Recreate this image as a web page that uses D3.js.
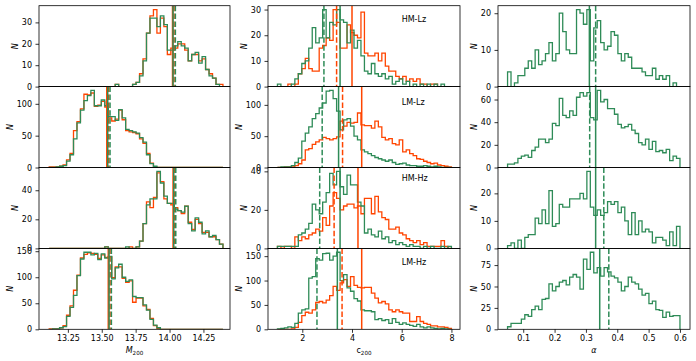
<!DOCTYPE html>
<html>
<head>
<meta charset="utf-8">
<script src="https://cdn.jsdelivr.net/npm/d3@7"></script>
<style>
  body { margin: 0; background: #fff; }
  svg text { font-family: "DejaVu Sans", sans-serif; }
</style>
</head>
<body>
<svg id="chart" width="696" height="361"></svg>
<script>
// 50 equal bins per quantity
var nBins = 50;
var m200Range = [13.112, 14.394];
var c200Range = [1.0, 8.0];
var alphaRange = [0.05, 0.6];

var samples = ["HM-Lz", "LM-Lz", "HM-Hz", "LM-Hz"];

// M200 counts
var m200_HMLz_orange = [0,0,0,0,0,0,0,0,0,0, 0,0,0,0,0,0,0,0,0,1, 0,0,0,0,1,2,6,13,25,33, 36,25,32,28,15,18,18,20,20,17, 12,15,15,12,13,8,6,4,1,1];
var m200_HMLz_green  = [0,0,0,0,0,0,0,0,0,0, 0,0,0,0,0,0,0,0,0,1, 0,0,0,0,1,2,5,12,25,32, 32,28,33,29,17,17,19,21,19,18, 12,15,16,11,14,8,5,4,1,0];
var m200_LMLz_orange = [1,1,1,2,4,12,22,58,72,92, 115,114,117,96,98,104,95,78,73,76, 90,75,58,56,55,53,45,38,22,7, 1,0,0,0,0,0,0,0,0,0, 0,0,0,0,0,0,0,0,0,0];
var m200_LMLz_green  = [0,0,1,2,3,10,20,45,70,90, 105,113,121,97,97,106,97,80,80,74, 91,78,60,58,56,54,47,40,20,6, 2,0,0,0,0,0,0,0,0,0, 0,0,0,0,0,0,0,0,0,0];
var m200_HMHz_orange = [0,0,0,0,0,0,0,0,0,0, 0,0,0,0,0,0,1,0,0,0, 0,0,0,1,0,1,5,17,32,28, 35,52,46,34,31,30,28,26,24,29, 18,13,20,17,11,11,8,8,6,3];
var m200_HMHz_green  = [0,0,0,0,0,0,0,0,0,0, 0,0,0,0,0,0,1,0,0,0, 0,0,1,0,0,1,5,17,30,34, 34,53,45,36,31,31,27,26,25,29, 17,12,21,18,10,12,8,9,6,3];
var m200_LMHz_orange = [1,1,1,3,7,27,45,75,104,137, 144,147,146,144,136,143,138,139,99,120, 120,98,90,93,52,60,60,45,38,21, 7,2,0,0,0,0,0,0,0,0, 0,0,0,0,0,0,0,0,0,0];
var m200_LMHz_green  = [0,1,1,3,5,25,42,65,103,135, 148,148,143,146,134,145,137,140,97,118, 125,100,92,95,63,61,61,47,37,19, 8,3,0,0,0,0,0,0,0,0, 0,0,0,0,0,0,0,0,0,0];

// c200 counts
var c200_HMLz_orange = [0,0,0,1,0,1,5,7,11,7, 6,6,15,16,19,18,30,25,15,15, 24,21,20,19,29,13,12,12,13,10, 13,8,6,6,4,3,4,2,3,2, 3,1,1,0,1,1,0,0,0,0];
var c200_HMLz_green  = [1,0,0,0,1,3,5,9,10,15, 23,17,19,30,19,25,24,30,26,25, 17,22,15,18,12,6,5,9,5,4, 5,3,4,1,2,3,1,2,0,1, 0,1,0,1,0,1,0,1,0,0];
var c200_LMLz_orange = [0,0,1,1,1,3,6,12,28,30, 37,41,44,48,46,44,46,49,74,66, 72,71,72,87,68,67,67,63,74,65, 48,44,46,38,36,44,25,28,22,19, 14,13,10,8,6,7,4,3,2,1];
var c200_LMLz_green  = [0,1,1,1,3,8,15,42,55,65, 78,86,95,103,122,123,110,90,60,76, 78,66,50,44,28,25,22,19,16,14, 12,10,12,8,5,6,7,4,3,3, 2,2,3,2,1,2,1,0,0,0];
var c200_HMHz_orange = [1,0,1,1,0,6,4,6,5,7, 8,10,9,16,12,22,29,26,20,22, 23,23,21,22,18,26,26,18,27,19, 16,15,10,10,11,8,7,5,4,3, 4,2,3,1,1,1,1,4,1,0];
var c200_HMHz_green  = [1,1,1,1,1,1,7,8,10,13, 23,20,18,24,29,39,33,40,32,28, 38,33,33,24,22,8,10,7,6,9, 5,6,3,4,2,3,2,1,2,1, 1,0,1,0,1,0,0,1,0,1];
var c200_LMHz_orange = [0,0,0,0,1,4,14,28,35,33, 40,55,57,54,60,69,88,80,95,102, 88,108,90,86,85,86,86,74,64,54, 57,52,40,36,40,36,33,33,16,16, 26,16,12,10,7,7,5,5,4,2];
var c200_LMHz_green  = [1,2,3,5,4,12,33,40,42,105, 108,145,142,155,156,142,150,158,100,112, 85,78,63,58,40,38,38,36,20,22, 18,20,12,22,14,10,13,10,8,6, 10,5,3,5,3,2,1,2,1,0];

// alpha counts (one sample only)
var alpha_HMLz_green = [4,0,1,3,3,5,7,5,10,6, 7,9,12,7,9,20,15,10,9,9, 21,20,17,21,7,16,18,12,10,11, 15,14,9,7,9,8,5,5,5,4, 3,3,5,2,3,2,3,0,1,0];
var alpha_LMLz_green = [3,3,4,8,10,11,9,15,18,25, 25,22,25,39,37,61,46,44,50,46, 62,66,63,66,44,42,68,58,60,52, 52,47,38,35,36,38,33,30,22,20, 25,16,23,14,15,13,16,6,10,8];
var alpha_HMHz_green = [1,2,0,3,0,4,5,5,11,9, 14,9,21,8,9,16,15,15,18,18, 18,20,18,28,15,12,14,12,13,17, 16,17,13,15,10,5,13,5,10,6, 7,6,2,4,4,3,1,6,1,8];
var alpha_LMHz_green = [3,7,7,7,12,17,15,23,27,23, 35,36,53,45,50,55,57,52,61,64, 61,47,82,70,90,66,72,62,72,67, 62,60,55,45,50,61,55,53,47,40, 42,30,33,23,22,14,20,15,16,16];

// vertical markers per sample: [solid, dashed]
var m200_orange_lines = [[14.022, 14.033], [13.537, 13.551], [14.026, 14.037], [13.548, 13.561]];
var m200_green_lines  = [[14.026, 14.043], [13.544, 13.561], [14.031, 14.046], [13.554, 13.571]];
var c200_orange_lines = [[4.00, 3.38], [4.39, 3.62], [4.24, 3.28], [4.39, 3.60]];
var c200_green_lines  = [[3.52, 2.87], [3.46, 2.80], [3.52, 2.70], [3.41, 2.59]];
var alpha_green_lines = [[0.311, 0.331], [0.331, 0.312], [0.331, 0.357], [0.344, 0.373]];

// axis limits and ticks
var m200Lim = [13.037, 14.446];
var c200Lim = [0.62, 8.345];
var alphaLim = [0.0195, 0.632];
var m200Ticks = [13.25, 13.5, 13.75, 14.0, 14.25];
var c200Ticks = [2, 4, 6, 8];
var alphaTicks = [0.1, 0.2, 0.3, 0.4, 0.5, 0.6];
var m200YTicks = [[0, 10, 20, 30], [0, 50, 100], [0, 20, 40], [0, 50, 100, 150]];
var c200YTicks = [[0, 10, 20, 30], [0, 50, 100], [0, 20, 40], [0, 50, 100, 150]];
var alphaYTicks = [[0, 10, 20], [0, 20, 40, 60], [0, 10, 20], [0, 25, 50, 75]];

var ORANGE = "#ff4500", GREEN = "#2e8b57";

var columns = [
  { range: m200Range, lim: m200Lim, ticks: m200Ticks, fmt: d3.format(".2f"), yTicks: m200YTicks,
    orange: [m200_HMLz_orange, m200_LMLz_orange, m200_HMHz_orange, m200_LMHz_orange],
    green: [m200_HMLz_green, m200_LMLz_green, m200_HMHz_green, m200_LMHz_green],
    oLines: m200_orange_lines, gLines: m200_green_lines, label: "M", sub: "200", italic: true },
  { range: c200Range, lim: c200Lim, ticks: c200Ticks, fmt: d3.format("d"), yTicks: c200YTicks,
    orange: [c200_HMLz_orange, c200_LMLz_orange, c200_HMHz_orange, c200_LMHz_orange],
    green: [c200_HMLz_green, c200_LMLz_green, c200_HMHz_green, c200_LMHz_green],
    oLines: c200_orange_lines, gLines: c200_green_lines, label: "c", sub: "200", italic: false, tag: true },
  { range: alphaRange, lim: alphaLim, ticks: alphaTicks, fmt: d3.format(".1f"), yTicks: alphaYTicks,
    orange: null,
    green: [alpha_HMLz_green, alpha_LMLz_green, alpha_HMHz_green, alpha_LMHz_green],
    oLines: null, gLines: alpha_green_lines, label: "\u03b1", sub: "", italic: true }
];

// layout
var colX = [[39, 230], [268, 460], [498, 690]];
var rowTop = 5.7, rowH = 80.9;
var tagDy = [16, 18.3, 13, 17];

var svg = d3.select("#chart");

function stepPoints(counts, range) {
  var w = (range[1] - range[0]) / nBins;
  var pts = [[range[0], 0]];
  counts.forEach(function(c, i) {
    pts.push([range[0] + i * w, c]);
    pts.push([range[0] + (i + 1) * w, c]);
  });
  pts.push([range[1], 0]);
  return pts;
}

columns.forEach(function(col, ci) {
  var x = d3.scaleLinear().domain(col.lim).range(colX[ci]);

  samples.forEach(function(name, ri) {
    var top = rowTop + ri * rowH, bottom = top + rowH;
    var all = col.green[ri].concat(col.orange ? col.orange[ri] : []);
    var y = d3.scaleLinear().domain([0, 1.05 * d3.max(all)]).range([bottom, top]);

    var clipId = "clip" + ci + ri;
    svg.append("clipPath").attr("id", clipId)
      .append("rect")
        .attr("x", colX[ci][0]).attr("y", top)
        .attr("width", colX[ci][1] - colX[ci][0]).attr("height", rowH);

    var g = svg.append("g").attr("clip-path", "url(#" + clipId + ")");
    var line = d3.line()
      .x(function(d) { return x(d[0]); })
      .y(function(d) { return y(d[1]); });

    if (col.orange) {
      g.append("path")
        .attr("d", line(stepPoints(col.orange[ri], col.range)))
        .attr("fill", "none").attr("stroke", ORANGE).attr("stroke-width", 1.3);
    }
    g.append("path")
      .attr("d", line(stepPoints(col.green[ri], col.range)))
      .attr("fill", "none").attr("stroke", GREEN).attr("stroke-width", 1.3);

    // median (solid) and mean (dashed) markers
    function marker(v, color, dashed) {
      g.append("line")
        .attr("x1", x(v)).attr("x2", x(v))
        .attr("y1", top).attr("y2", bottom)
        .attr("stroke", color).attr("stroke-width", 1.5)
        .attr("stroke-dasharray", dashed ? "5.5,2.4" : null);
    }
    if (col.oLines) {
      marker(col.oLines[ri][0], ORANGE, false);
      marker(col.oLines[ri][1], ORANGE, true);
    }
    marker(col.gLines[ri][0], GREEN, false);
    marker(col.gLines[ri][1], GREEN, true);

    // frame
    svg.append("rect")
      .attr("x", colX[ci][0]).attr("y", top)
      .attr("width", colX[ci][1] - colX[ci][0]).attr("height", rowH)
      .attr("fill", "none").attr("stroke", "#000").attr("stroke-width", 0.8);

    // y axis
    var yAxis = svg.append("g")
      .attr("transform", "translate(" + colX[ci][0] + ",0)")
      .call(d3.axisLeft(y).tickValues(col.yTicks[ri]).tickSize(3.5).tickPadding(3.5));
    yAxis.select(".domain").remove();
    yAxis.selectAll("line").attr("stroke", "#000").attr("stroke-width", 0.8);
    yAxis.selectAll("text").attr("font-size", 8).attr("fill", "#000")
      .attr("font-family", "DejaVu Sans");
    var bb = yAxis.node().getBBox();

    svg.append("text")
      .attr("transform", "translate(" + (colX[ci][0] + bb.x - 4) + "," + (top + rowH / 2) + ") rotate(-90)")
      .attr("text-anchor", "middle")
      .attr("font-size", 8).attr("font-style", "italic")
      .text("N");

    if (col.tag) {
      svg.append("text")
        .attr("x", x(6)).attr("y", top + tagDy[ri])
        .attr("font-size", 8)
        .text(name);
    }

    if (ri === samples.length - 1) {
      var xAxis = svg.append("g")
        .attr("transform", "translate(0," + bottom + ")")
        .call(d3.axisBottom(x).tickValues(col.ticks).tickFormat(col.fmt).tickSize(3.5).tickPadding(2.5));
      xAxis.select(".domain").remove();
      xAxis.selectAll("line").attr("stroke", "#000").attr("stroke-width", 0.8);
      xAxis.selectAll("text").attr("font-size", 8).attr("fill", "#000")
        .attr("font-family", "DejaVu Sans");

      var lab = svg.append("text")
        .attr("x", (colX[ci][0] + colX[ci][1]) / 2).attr("y", 352.5)
        .attr("text-anchor", "middle").attr("font-size", 8);
      lab.append("tspan").attr("font-style", col.italic ? "italic" : "normal").text(col.label);
      if (col.sub) {
        lab.append("tspan").attr("font-size", 5.6).attr("dy", 2).text(col.sub);
      }
    }
  });
});
</script>
</body>
</html>
